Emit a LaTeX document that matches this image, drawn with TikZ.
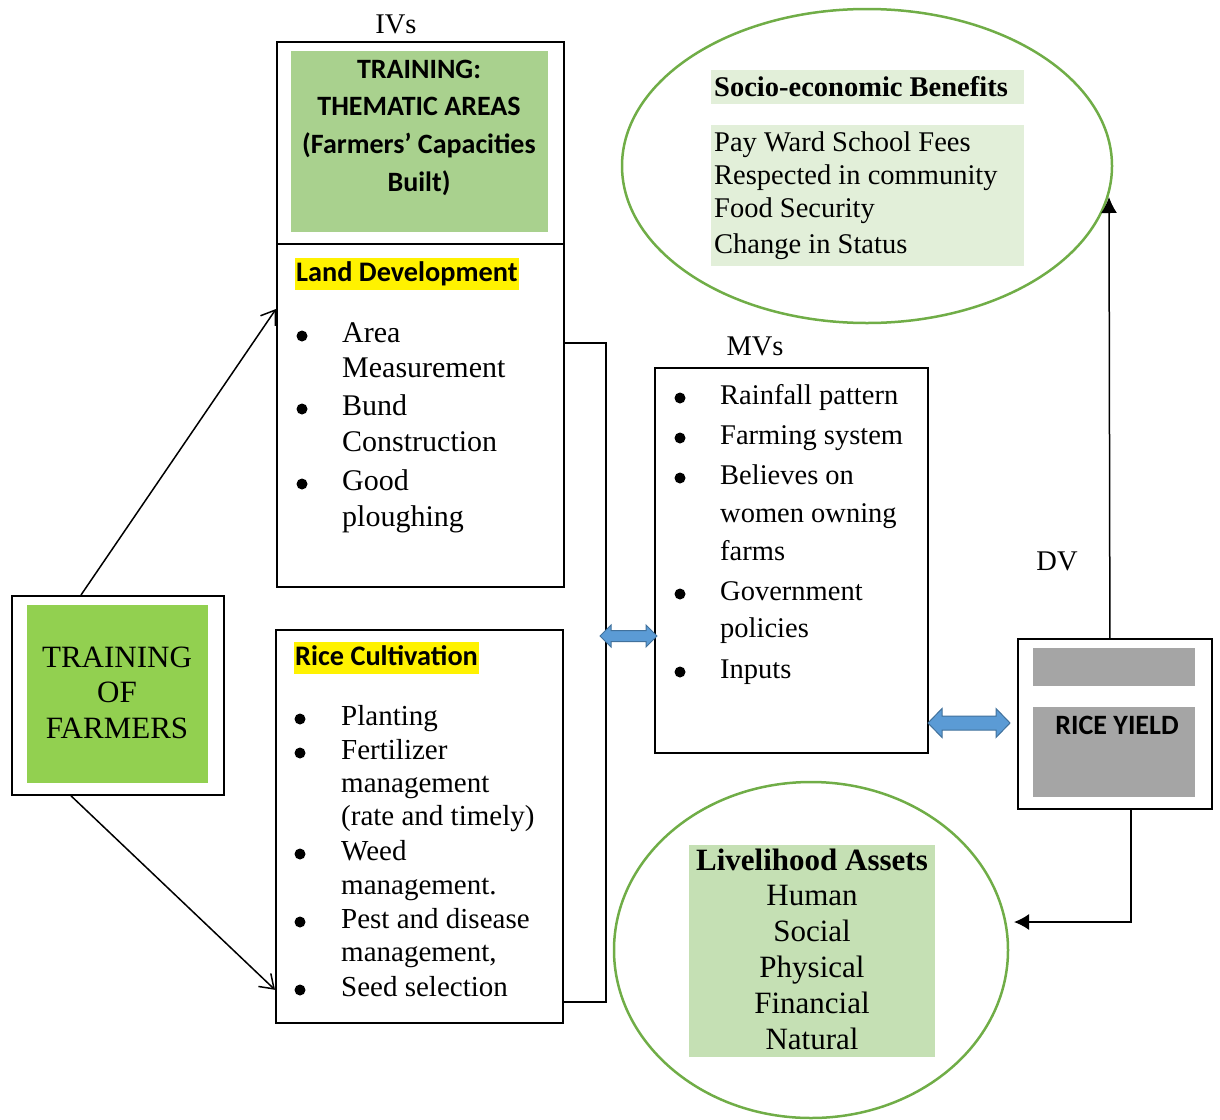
\documentclass[tikz,border=0pt]{standalone}
\usepackage{fontspec}
\setmainfont{Liberation Serif}
\newfontfamily\calfont{Carlito}
\usetikzlibrary{arrows.meta,shapes.geometric}
\newcommand\myfs[1]{\fontsize{#1}{#1}\selectfont}
\definecolor{ivgreen}{HTML}{A9D18E}
\definecolor{trgreen}{HTML}{92D050}
\definecolor{ellgreen}{HTML}{70AD47}
\definecolor{palegreen}{HTML}{E2EFD9}
\definecolor{midgreen}{HTML}{C5E0B4}
\definecolor{rygray}{HTML}{A5A5A5}
\definecolor{arrblue}{HTML}{5B9BD5}
\definecolor{arredge}{HTML}{41719C}
\begin{document}
\begin{tikzpicture}[x=1pt,y=-1pt,
  box/.style={draw=black,line width=1.8pt,rectangle,anchor=north west,inner sep=0pt},
  fillrect/.style={rectangle,anchor=north west,inner sep=0pt},
  lt/.style={anchor=mid west,inner sep=0pt,yshift=-7.5pt},
  ct/.style={anchor=mid,inner sep=0pt,yshift=-7.5pt},
  bul/.style={circle,fill=black,inner sep=0pt,minimum size=11pt,yshift=-3pt},
  hl/.style={anchor=west,fill=yellow,inner xsep=1pt,inner ysep=0pt,text height=23pt,text depth=9pt,font=\calfont\bfseries\myfs{28.3},yshift=-1pt},
  conn/.style={line width=1.5pt},
  blockarrow/.style={fill=arrblue,draw=arredge,line width=1pt,line join=miter},
  ell/.style={ellipse,draw=ellgreen,line width=2.5pt,inner sep=0pt},
]
\useasboundingbox (0,0) rectangle (1220,1119);

% ---------- IV title box ----------
\node[ct,font=\myfs{28.5}] (ivlbl) at (396,24) {IVs};
\node[box,minimum width=287pt,minimum height=202pt] (ivtop) at (276,41) {};
\node[fillrect,fill=ivgreen,minimum width=257pt,minimum height=181pt] (ivfill) at (291,51) {};
\foreach \t/\y [count=\i] in {{TRAINING:}/69, {THEMATIC AREAS}/106, {(Farmers’ Capacities}/144, {Built)}/182}
  \node[ct,font=\calfont\bfseries\myfs{28}] (ivt\i) at (419,\y) {\t};

% ---------- Land development ----------
\node[box,minimum width=287pt,minimum height=343pt] (land) at (276,243) {};
\node[hl] (landhl) at (295,273) {Land Development};
\foreach \t/\y [count=\i] in {Area/333, Measurement/368, Bund/406, Construction/442, Good/481, ploughing/517}
  \node[lt,font=\myfs{30}] (lt\i) at (342,\y) {\t};
\foreach \y [count=\i] in {333,406,481}
  \node[bul] (lb\i) at (302,\y) {};

% ---------- Rice cultivation ----------
\node[box,minimum width=287pt,minimum height=393pt] (rice) at (275,629) {};
\node[hl] (ricehl) at (294,657) {Rice Cultivation};
\foreach \t/\y [count=\i] in {Planting/716, Fertilizer/750, management/783, {(rate and timely)}/816, Weed/851, {management.}/885, {Pest and disease}/919, {management,}/952, {Seed selection}/987}
  \node[lt,font=\myfs{29}] (rt\i) at (341,\y) {\t};
\foreach \y [count=\i] in {716,750,851,919,987}
  \node[bul] (rb\i) at (300,\y) {};

% ---------- Training of farmers ----------
\node[box,minimum width=212pt,minimum height=199pt] (train) at (11,595) {};
\node[fillrect,fill=trgreen,minimum width=181pt,minimum height=178pt] (trfill) at (27,605) {};
\foreach \t/\y [count=\i] in {TRAINING/658, OF/693, FARMERS/729}
  \node[ct,font=\myfs{31}] (trt\i) at (117,\y) {\t};

% ---------- MV box ----------
\node[ct,font=\myfs{28.5}] (mvlbl) at (755,346) {MVs};
\node[box,minimum width=273pt,minimum height=385pt] (mv) at (654,367) {};
\foreach \t/\y [count=\i] in {{Rainfall pattern}/395, {Farming system}/435, {Believes on}/475, {women owning}/513, farms/551, Government/591, policies/628, Inputs/669}
  \node[lt,font=\myfs{28.5}] (mt\i) at (720,\y) {\t};
\foreach \y [count=\i] in {395,435,475,591,669}
  \node[bul] (mb\i) at (680,\y) {};

% ---------- DV / rice yield ----------
\node[ct,font=\myfs{28.5}] (dvlbl) at (1057,561) {DV};
\node[box,minimum width=194pt,minimum height=170pt] (ry) at (1017,638) {};
\node[fillrect,fill=rygray,minimum width=162pt,minimum height=38pt] (rytop) at (1033,648) {};
\node[fillrect,fill=rygray,minimum width=162pt,minimum height=90pt] (rymain) at (1033,707) {};
\node[ct,font=\calfont\bfseries\myfs{28}] (rytxt) at (1117,725) {RICE YIELD};

% ---------- Socio-economic ellipse ----------
\node[ell,minimum width=490pt,minimum height=314pt] (socio) at (867,166) {};
\node[fillrect,fill=palegreen,minimum width=313pt,minimum height=34pt] (sochd) at (711,70) {};
\node[lt,font=\bfseries\myfs{28.5}] (soct) at (714,87) {Socio-economic Benefits};
\node[fillrect,fill=palegreen,minimum width=313pt,minimum height=141pt] (socbody) at (711,125) {};
\foreach \t/\y [count=\i] in {{Pay Ward School Fees}/142, {Respected in community}/175, {Food Security}/208, {Change in Status}/244}
  \node[lt,font=\myfs{28.5}] (st\i) at (714,\y) {\t};

% ---------- Livelihood ellipse ----------
\node[ell,minimum width=394pt,minimum height=336pt] (live) at (811,950) {};
\node[fillrect,fill=midgreen,minimum width=246pt,minimum height=212pt] (livebg) at (689,845) {};
\node[ct,font=\bfseries\myfs{31}] (livet0) at (812,861) {Livelihood Assets};
\foreach \t/\y [count=\i] in {Human/896, Social/932, Physical/968, Financial/1004, Natural/1040}
  \node[ct,font=\myfs{31}] (livet\i) at (812,\y) {\t};

% ---------- Connectors ----------
\draw[conn,-{Straight Barb[length=13pt,width=18pt]}] ([xshift=70pt]train.north west) -- ([yshift=-66pt]land.north west);
\draw[conn,-{Straight Barb[length=13pt,width=18pt]}] ([xshift=60pt]train.south west) -- ([yshift=34pt]rice.south west);
\draw[line width=1.6pt] ([yshift=-100pt]land.north east) -- ++(41,0) |- ([yshift=22pt]rice.south east);

\coordinate (sociotip) at (1109,197);
\coordinate (livetip) at (1014,922);
\draw[conn,-{Latex[length=16pt,width=16pt]}] ([xshift=-5pt]ry.north) -- (sociotip);
\draw[conn,-{Latex[length=15pt,width=16pt]}] ([xshift=16pt]ry.south) |- (livetip);

% block double arrows
\draw[blockarrow] (600,636) -- (611,625) -- (611,630.5) -- (646,630.5) -- (646,625) -- (657,636)
  -- (646,647) -- (646,641.5) -- (611,641.5) -- (611,647) -- cycle;
\draw[blockarrow] (928,723) -- (942,708.5) -- (942,716) -- (996,716) -- (996,708.5) -- (1010,723)
  -- (996,737.5) -- (996,730) -- (942,730) -- (942,737.5) -- cycle;
\end{tikzpicture}
\end{document}
